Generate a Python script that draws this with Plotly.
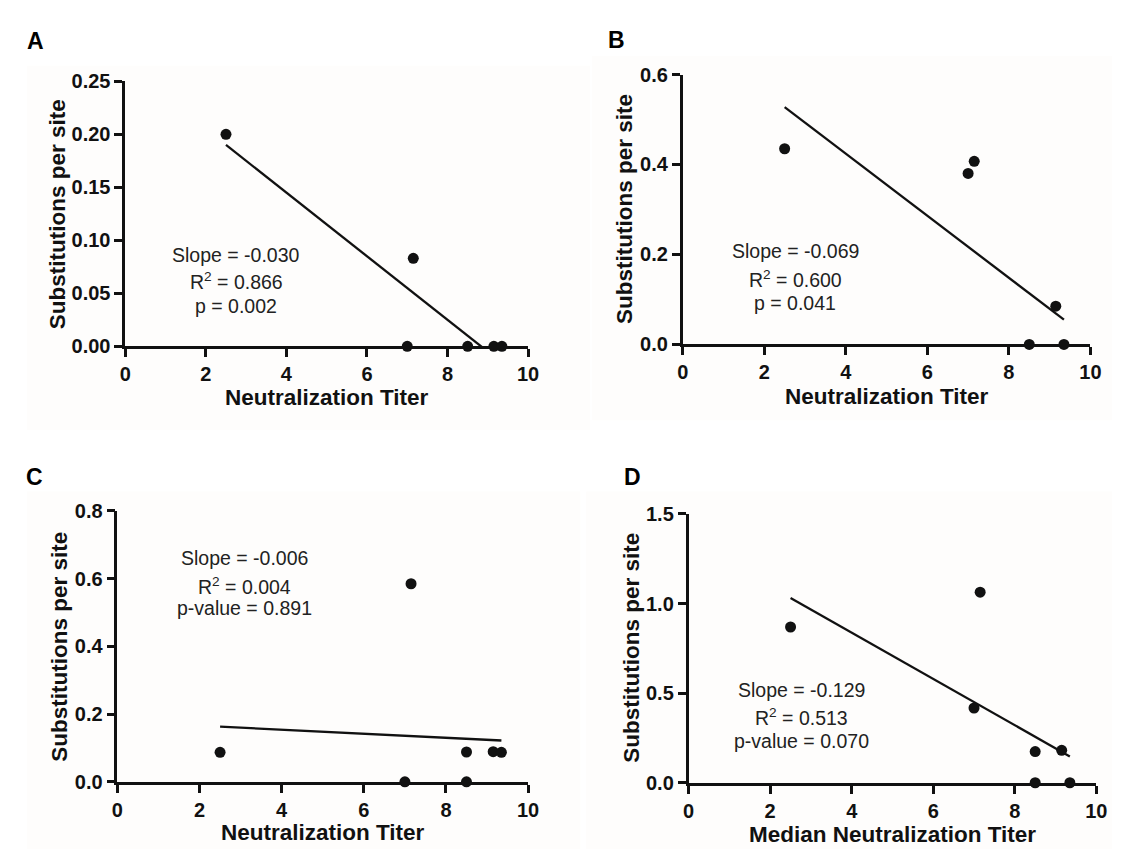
import plotly.graph_objects as go

# ---------------- data ----------------
A_x = [2.5, 7.15, 7.0, 8.5, 9.15, 9.35]
A_y = [0.200, 0.083, 0.0, 0.0, 0.0, 0.0]
B_x = [2.5, 7.0, 7.15, 9.15, 8.5, 9.35]
B_y = [0.435, 0.380, 0.407, 0.085, 0.0, 0.0]
C_x = [2.5, 7.15, 7.0, 8.5, 8.5, 9.15, 9.35]
C_y = [0.087, 0.585, 0.0, 0.0, 0.088, 0.089, 0.087]
D_x = [2.5, 7.15, 7.0, 8.5, 9.15, 8.5, 9.35]
D_y = [0.869, 1.063, 0.417, 0.174, 0.181, 0.0, 0.0]

# regression fits (slope, intercept)
fit_slope = {"A": -0.030, "B": -0.069, "C": -0.006, "D": -0.129}
fit_intercept = {"A": 0.265, "B": 0.700, "C": 0.178, "D": 1.353}

stats_text = {
    "A": ["Slope = -0.030", "R<sup>2</sup> = 0.866", "p = 0.002"],
    "B": ["Slope = -0.069", "R<sup>2</sup> = 0.600", "p = 0.041"],
    "C": ["Slope = -0.006", "R<sup>2</sup> = 0.004", "p-value = 0.891"],
    "D": ["Slope = -0.129", "R<sup>2</sup> = 0.513", "p-value = 0.070"],
}
x_titles = {"A": "Neutralization Titer", "B": "Neutralization Titer",
            "C": "Neutralization Titer", "D": "Median Neutralization Titer"}
y_title = "Substitutions per site"
y_max = {"A": 0.25, "B": 0.6, "C": 0.8, "D": 1.5}
y_dtick = {"A": 0.05, "B": 0.2, "C": 0.2, "D": 0.5}
y_fmt = {"A": ".2f", "B": ".1f", "C": ".1f", "D": ".1f"}

# ---------------- layout geometry (pixels) ----------------
W, H = 1122, 852
# plot areas: x0, x1, ytop, ybottom
boxes = {
    "A": (113, 522, 64, 336),
    "B": (679, 1093, 57, 334),
    "C": (105, 522, 505, 783),
    "D": (685, 1099, 508, 784),
}
stat_pos = {  # data coords: x centre, y of each line
    "A": (2.76, [0.086, 0.0616, 0.038]),
    "B": (2.76, [0.207, 0.1457, 0.0916]),
    "C": (3.09, [0.661, 0.578, 0.513]),
    "D": (2.77, [0.515, 0.367, 0.231]),
}
ytitle_off = {"A": 68, "B": 59, "C": 59, "D": 58}
xtitle_off = {"A": 53, "B": 53, "C": 52, "D": 53}
letter_pos = {"A": (22, 23), "B": (612, 22), "C": (21, 470), "D": (628, 470)}
bg_boxes = {"A": (13, 585, 48, 422), "B": (587, 1115, 38, 412),
            "C": (13, 575, 485, 852), "D": (581, 1115, 485, 852)}

FONT = "Arial, 'Liberation Sans', Helvetica, sans-serif"
INK = "#111111"

def px(x):
    return x / W

def py(y):
    return 1 - y / H

data = {"A": (A_x, A_y), "B": (B_x, B_y), "C": (C_x, C_y), "D": (D_x, D_y)}

fig = go.Figure()
layout = {}
annotations = []
shapes = []

for i, key in enumerate(["A", "B", "C", "D"]):
    n = "" if i == 0 else str(i + 1)
    xa, ya = "x" + n, "y" + n
    xs, ys = data[key]
    x0, x1, yt, yb = boxes[key]

    lx = [min(xs), max(xs)]
    ly = [fit_intercept[key] + fit_slope[key] * v for v in lx]
    fig.add_trace(go.Scatter(x=lx, y=ly, mode="lines", xaxis=xa, yaxis=ya,
                             line=dict(color=INK, width=2.3), showlegend=False,
                             hoverinfo="skip"))
    fig.add_trace(go.Scatter(x=xs, y=ys, mode="markers", xaxis=xa, yaxis=ya,
                             marker=dict(color=INK, size=11), cliponaxis=False,
                             showlegend=False))

    layout["xaxis" + n] = dict(
        domain=[px(x0), px(x1)], anchor=ya, range=[0, 10], dtick=2, tick0=0,
        showline=True, linecolor=INK, linewidth=2.6, ticks="outside",
        ticklen=8, tickwidth=2.6, tickcolor=INK, showgrid=False, zeroline=False,
        tickfont=dict(family=FONT, size=20, color=INK, weight="bold"),
    )
    layout["yaxis" + n] = dict(
        domain=[py(yb), py(yt)], anchor=xa, range=[0, y_max[key]],
        dtick=y_dtick[key], tick0=0, tickformat=y_fmt[key],
        showline=True, linecolor=INK, linewidth=2.6, ticks="outside",
        ticklen=8, tickwidth=2.6, tickcolor=INK, showgrid=False, zeroline=False,
        tickfont=dict(family=FONT, size=20, color=INK, weight="bold"),
    )

    # stats text
    cx, yl = stat_pos[key]
    for txt, yy in zip(stats_text[key], yl):
        annotations.append(dict(x=cx, y=yy, xref=xa, yref=ya, text=txt,
                                showarrow=False, xanchor="center", yanchor="middle",
                                font=dict(family=FONT, size=19.5, color="#222222")))
    # axis titles
    annotations.append(dict(x=px((x0 + x1) / 2), y=py(yb + xtitle_off[key]),
                            xref="paper", yref="paper", text=x_titles[key],
                            showarrow=False, xanchor="center", yanchor="middle",
                            font=dict(family=FONT, size=22.5, color=INK, weight="bold")))
    annotations.append(dict(x=px(x0 - ytitle_off[key]), y=py((yt + yb) / 2),
                            xref="paper", yref="paper", text=y_title, textangle=-90,
                            showarrow=False, xanchor="center", yanchor="middle",
                            font=dict(family=FONT, size=22.5, color=INK, weight="bold")))
    # panel letter
    lxp, lyp = letter_pos[key]
    annotations.append(dict(x=px(lxp), y=py(lyp), xref="paper", yref="paper",
                            text=key, showarrow=False, xanchor="center", yanchor="middle",
                            font=dict(family=FONT, size=23, color="#000000", weight="bold")))
    # faint background box
    bx0, bx1, by0, by1 = bg_boxes[key]
    shapes.append(dict(type="rect", xref="paper", yref="paper",
                       x0=px(bx0), x1=px(bx1), y0=py(by1), y1=py(by0),
                       fillcolor="#fefdfc", line=dict(width=0), layer="below"))

fig.update_layout(
    width=W, height=H, margin=dict(l=0, r=0, t=0, b=0),
    paper_bgcolor="white", plot_bgcolor="rgba(0,0,0,0)",
    annotations=annotations, shapes=shapes, showlegend=False,
    **layout,
)

fig.write_html("out.html")
